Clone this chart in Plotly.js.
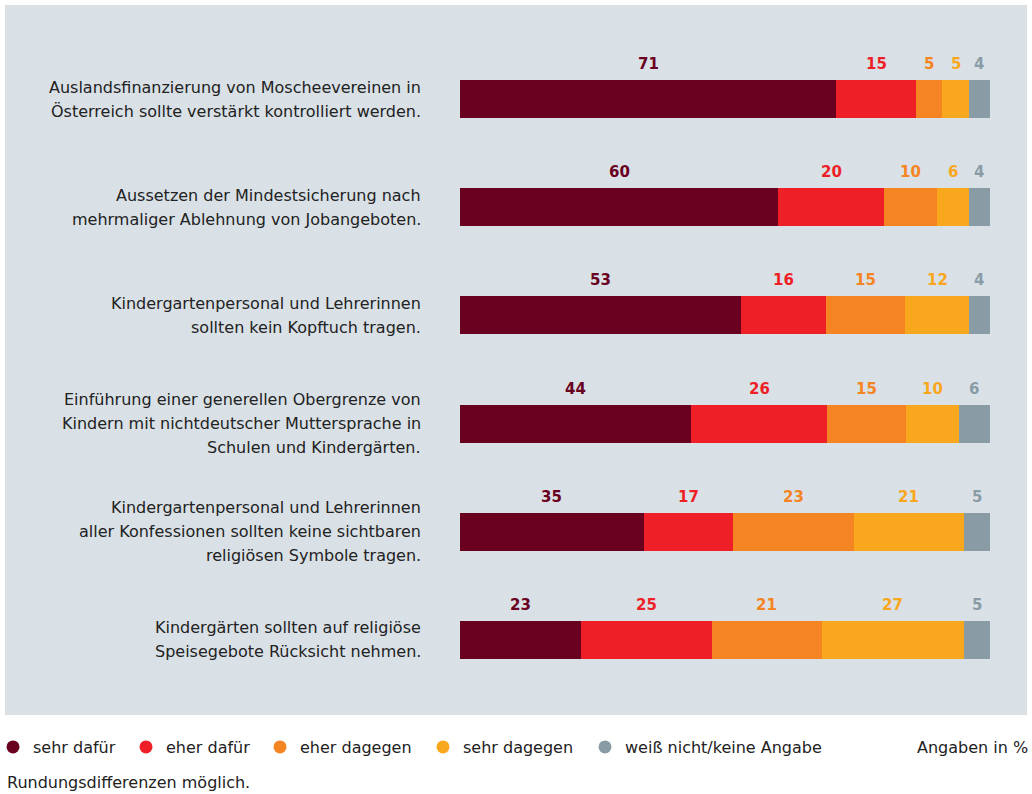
<!DOCTYPE html>
<html>
<head>
<meta charset="utf-8">
<script src="https://cdn.plot.ly/plotly-3.0.1.min.js"></script>
<style>html,body{margin:0;padding:0;background:#fff;}#chart{width:1032px;height:794px;}</style>
</head>
<body>
<div id="chart"></div>
<script>
const categories = [
  "Auslandsfinanzierung von Moscheevereinen in\nÖsterreich sollte verstärkt kontrolliert werden.",
  "Aussetzen der Mindestsicherung nach\nmehrmaliger Ablehnung von Jobangeboten.",
  "Kindergartenpersonal und Lehrerinnen\nsollten kein Kopftuch tragen.",
  "Einführung einer generellen Obergrenze von\nKindern mit nichtdeutscher Muttersprache in\nSchulen und Kindergärten.",
  "Kindergartenpersonal und Lehrerinnen\naller Konfessionen sollten keine sichtbaren\nreligiösen Symbole tragen.",
  "Kindergärten sollten auf religiöse\nSpeisegebote Rücksicht nehmen."
];
const seriesNames = ["sehr dafür", "eher dafür", "eher dagegen", "sehr dagegen", "weiß nicht/keine Angabe"];
const sehrDafuer   = [71, 60, 53, 44, 35, 23];
const eherDafuer   = [15, 20, 16, 26, 17, 25];
const eherDagegen  = [5, 10, 15, 15, 23, 21];
const sehrDagegen  = [5, 6, 12, 10, 21, 27];
const weissNicht   = [4, 4, 4, 6, 5, 5];
const unitNote = "Angaben in %";
const footNote = "Rundungsdifferenzen möglich.";

const series = [sehrDafuer, eherDafuer, eherDagegen, sehrDagegen, weissNicht];
const colors = ["#6a0020", "#ee1f27", "#f58423", "#f9a71d", "#899ca6"];
const legendLeftPx = [-7, 126, 260, 423, 585];
const ids = categories.map((c, i) => "c" + i);

const FONT = "'DejaVu Sans', 'Open Sans', sans-serif";
const PLOT_L = 460, PLOT_W = 530;
const px2paper = p => (p - PLOT_L) / PLOT_W;

const traces = [];
series.forEach((vals, s) => {
  traces.push({
    type: "bar", orientation: "h",
    x: vals, y: ids,
    marker: {color: colors[s], line: {width: 0}},
    showlegend: false, hoverinfo: "skip", name: seriesNames[s]
  });
});
const layoutLegends = {};
series.forEach((vals, s) => {
  const key = s === 0 ? "legend" : "legend" + (s + 1);
  traces.push({
    type: "scatter", mode: "markers", x: [null], y: [null],
    marker: {color: colors[s], size: 13, symbol: "circle"},
    name: seriesNames[s], showlegend: true, legend: key
  });
  layoutLegends[key] = {
    orientation: "h", x: px2paper(legendLeftPx[s]), xanchor: "left", y: -0.0817, yanchor: "middle",
    font: {family: FONT, size: 16, color: "#222"}, bgcolor: "rgba(0,0,0,0)", itemwidth: 30
  };
});

const annotations = [];
ids.forEach((id, i) => {
  const total = series.reduce((a, v) => a + v[i], 0);
  let cum = 0;
  series.forEach((vals, s) => {
    const mid = (cum + vals[i] / 2) / total * 100;
    cum += vals[i];
    annotations.push({
      x: mid, y: id, xref: "x", yref: "y", yshift: 35,
      text: "<b>" + vals[i] + "</b>", showarrow: false,
      font: {family: FONT, size: 15, color: colors[s]},
      xanchor: "center", yanchor: "middle"
    });
  });
  const lines = categories[i].split("\n");
  lines.forEach((ln, k) => {
    annotations.push({
      x: px2paper(423), xref: "paper", y: id, yref: "y",
      yshift: -((k - (lines.length - 1) / 2) * 24),
      text: ln, showarrow: false, xanchor: "right", yanchor: "middle",
      font: {family: FONT, size: 16, color: "#222"}
    });
  });
});
annotations.push({
  x: px2paper(1030), xref: "paper", y: -0.0817, yref: "paper", text: unitNote,
  showarrow: false, xanchor: "right", yanchor: "middle",
  font: {family: FONT, size: 16, color: "#222"}
});
annotations.push({
  x: px2paper(5), xref: "paper", y: -0.1371, yref: "paper", text: footNote,
  showarrow: false, xanchor: "left", yanchor: "middle",
  font: {family: FONT, size: 16, color: "#222"}
});

const layout = Object.assign({
  width: 1032, height: 794,
  margin: {l: PLOT_L, r: 1032 - PLOT_L - PLOT_W, t: 45, b: 100, pad: 0, autoexpand: false},
  paper_bgcolor: "#ffffff", plot_bgcolor: "rgba(0,0,0,0)",
  barmode: "stack", barnorm: "percent", bargap: 0.649,
  xaxis: {range: [0, 100], visible: false, fixedrange: true},
  yaxis: {categoryorder: "array", categoryarray: ids, autorange: "reversed",
          showticklabels: false, showgrid: false, zeroline: false, showline: false, ticks: ""},
  shapes: [{type: "rect", xref: "paper", yref: "paper", x0: px2paper(5), x1: px2paper(1027), y0: -0.0324, y1: 1.0616,
            fillcolor: "#d9e1e7", line: {width: 0}, layer: "below"}],
  annotations: annotations,
  showlegend: true,
  font: {family: FONT}
}, layoutLegends);
Plotly.newPlot("chart", traces, layout, {displayModeBar: false, staticPlot: true});
</script>
</body>
</html>
